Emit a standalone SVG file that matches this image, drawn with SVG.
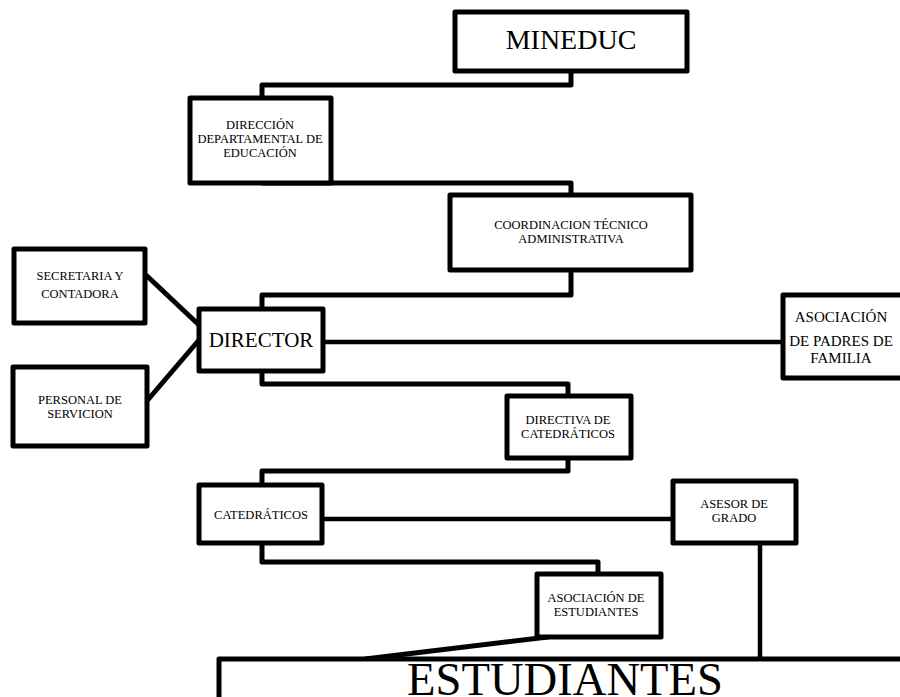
<svg xmlns="http://www.w3.org/2000/svg" width="900" height="697" viewBox="0 0 900 697">
<style>
.box{fill:#fff;stroke:#000;stroke-width:5;stroke-linejoin:round}
.conn{fill:none;stroke:#000;stroke-width:5;stroke-linejoin:round;stroke-linecap:butt}
.line{fill:none;stroke:#000;stroke-width:4.5}
text{font-family:"Liberation Serif","Times New Roman","DejaVu Serif",serif;fill:#000;text-anchor:middle}
.s{font-size:12.5px}
</style>
<rect width="900" height="697" fill="#fff"/>
<g id="connectors">
<path class="conn" d="M571,71 V85 H262 V98"/>
<path class="conn" d="M262,183 H571 V195"/>
<path class="conn" d="M571,270 V295 H262 V309"/>
<path class="conn" d="M262,371 V384 H568 V396"/>
<path class="conn" d="M568,458 V471 H262 V485"/>
<path class="conn" d="M262,543 V562 H598 V574"/>
<path class="line" d="M323,342 H783"/>
<path class="line" d="M322,519 H673"/>
<path class="line" d="M760,543 V659"/>
<path class="conn" d="M548,637 L365,659"/>
<path class="conn" d="M146,275 L199,325"/>
<path class="conn" d="M146,402 L199,340"/>
</g>
<g id="mineduc">
<rect class="box" x="455" y="12" width="232" height="59"/>
<text x="571" y="49" font-size="28">MINEDUC</text>
</g>
<g id="direccion">
<rect class="box" x="190" y="98" width="141" height="85"/>
<text class="s" x="260" y="129">DIRECCIÓN</text>
<text class="s" x="260" y="143">DEPARTAMENTAL DE</text>
<text class="s" x="260" y="157">EDUCACIÓN</text>
</g>
<g id="coordinacion">
<rect class="box" x="450" y="195" width="241" height="75"/>
<text class="s" x="571" y="229">COORDINACION TÉCNICO</text>
<text class="s" x="571" y="243">ADMINISTRATIVA</text>
</g>
<g id="secretaria">
<rect class="box" x="14" y="249" width="131" height="74"/>
<text class="s" x="80" y="280">SECRETARIA Y</text>
<text class="s" x="80" y="298">CONTADORA</text>
</g>
<g id="personal">
<rect class="box" x="13" y="367" width="134" height="79"/>
<text class="s" x="80" y="404">PERSONAL DE</text>
<text class="s" x="80" y="418">SERVICION</text>
</g>
<g id="director">
<rect class="box" x="199" y="309" width="124" height="62"/>
<text x="261" y="347" font-size="21">DIRECTOR</text>
</g>
<g id="padres">
<rect class="box" x="783" y="295" width="125" height="83"/>
<text x="841" y="322" font-size="15">ASOCIACIÓN</text>
<text x="841" y="346" font-size="15">DE PADRES DE</text>
<text x="841" y="363" font-size="15">FAMILIA</text>
</g>
<g id="directiva">
<rect class="box" x="507" y="396" width="124" height="62"/>
<text class="s" x="568" y="424">DIRECTIVA DE</text>
<text class="s" x="568" y="438">CATEDRÁTICOS</text>
</g>
<g id="catedraticos">
<rect class="box" x="199" y="485" width="123" height="58"/>
<text class="s" x="261" y="519">CATEDRÁTICOS</text>
</g>
<g id="asesor">
<rect class="box" x="673" y="481" width="123" height="62"/>
<text class="s" x="734" y="508">ASESOR DE</text>
<text class="s" x="734" y="522">GRADO</text>
</g>
<g id="asoc-estudiantes">
<rect class="box" x="537" y="574" width="124" height="63"/>
<text class="s" x="596" y="602">ASOCIACIÓN DE</text>
<text class="s" x="596" y="616">ESTUDIANTES</text>
</g>
<g id="estudiantes">
<rect class="box" x="219" y="659" width="700" height="80"/>
<text x="565" y="695" font-size="47" textLength="316" lengthAdjust="spacingAndGlyphs">ESTUDIANTES</text>
</g>
</svg>
